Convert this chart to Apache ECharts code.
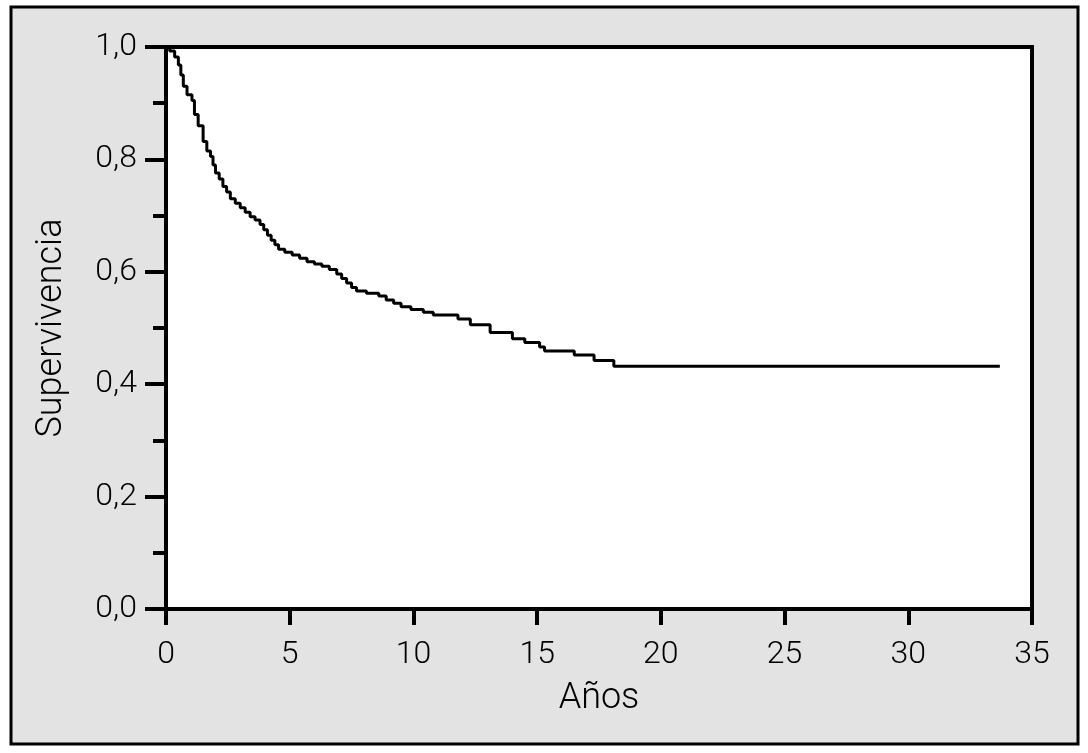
<!DOCTYPE html>
<html>
<head>
<meta charset="utf-8">
<script src="https://cdn.jsdelivr.net/npm/echarts@6/dist/echarts.min.js"></script>
<style>
  html, body { margin: 0; padding: 0; background: #fff; }
  #chart { width: 1088px; height: 753px; }
</style>
</head>
<body>
<div id="chart"></div>
<script>
// tiempos (años) y supervivencia
var tiempos = [0, 0.15, 0.35, 0.5, 0.6, 0.7, 0.85, 1.05, 1.15, 1.3, 1.5, 1.65, 1.8, 1.9, 2.0,
  2.15, 2.3, 2.45, 2.6, 2.8, 3.0, 3.2, 3.4, 3.6, 3.8, 3.95, 4.1, 4.25, 4.4, 4.55, 4.8,
  5.1, 5.4, 5.7, 6.0, 6.3, 6.6, 6.9, 7.1, 7.3, 7.5, 7.7, 8.1, 8.6, 8.9, 9.2, 9.5, 9.9,
  10.4, 10.8, 11.8, 12.3, 13.1, 14.0, 14.5, 15.1, 15.3, 16.5, 17.3, 18.1, 33.7];
var supervivencia = [1.000, 0.993, 0.982, 0.968, 0.950, 0.930, 0.915, 0.905, 0.880, 0.860, 0.832,
  0.815, 0.805, 0.790, 0.776, 0.765, 0.752, 0.742, 0.730, 0.722, 0.714, 0.706, 0.698, 0.692,
  0.684, 0.675, 0.665, 0.656, 0.648, 0.640, 0.635, 0.630, 0.624, 0.618, 0.614, 0.610, 0.604,
  0.596, 0.588, 0.580, 0.572, 0.566, 0.562, 0.557, 0.550, 0.544, 0.538, 0.533, 0.528, 0.523,
  0.516, 0.506, 0.492, 0.481, 0.474, 0.466, 0.459, 0.452, 0.442, 0.432, 0.432];

var datos = tiempos.map(function (t, i) { return [t, supervivencia[i]]; });

var chart = echarts.init(document.getElementById('chart'));

var fuente = 'Roboto, Liberation Sans, Arial, sans-serif';

var option = {
  animation: false,
  backgroundColor: '#fff',
  graphic: [{
    type: 'rect',
    z: -10,
    silent: true,
    shape: { x: 11, y: 7, width: 1067, height: 737 },
    style: { fill: '#e3e3e3', stroke: '#000', lineWidth: 3 }
  }],
  grid: {
    left: 166, right: 56, top: 47, bottom: 144,
    show: true,
    backgroundColor: '#fff',
    borderColor: '#000',
    borderWidth: 4
  },
  xAxis: {
    type: 'value',
    min: 0, max: 35, interval: 5,
    name: 'Años',
    nameLocation: 'middle',
    nameGap: 72,
    nameTextStyle: { fontSize: 36, color: '#000', fontFamily: fuente, fontWeight: 300 },
    axisLine: { show: true, onZero: false, lineStyle: { color: '#000', width: 4 } },
    axisTick: { show: true, length: 16, lineStyle: { color: '#000', width: 4 } },
    axisLabel: { show: true, margin: 30, fontSize: 32, color: '#000', fontFamily: fuente,
      fontWeight: 300, showMinLabel: true, showMaxLabel: true },
    splitLine: { show: false }
  },
  yAxis: {
    type: 'value',
    min: 0, max: 1, interval: 0.2,
    name: 'Supervivencia',
    nameLocation: 'middle',
    nameGap: 96,
    nameTextStyle: { fontSize: 36, color: '#000', fontFamily: fuente, fontWeight: 300 },
    axisLine: { show: true, lineStyle: { color: '#000', width: 4 } },
    axisTick: { show: true, length: 21, lineStyle: { color: '#000', width: 4 } },
    minorTick: { show: true, splitNumber: 2, length: 13, lineStyle: { color: '#000', width: 4 } },
    axisLabel: {
      show: true, margin: 29, fontSize: 32, color: '#000', fontFamily: fuente, fontWeight: 300,
      showMinLabel: true, showMaxLabel: true,
      formatter: function (v) { return v.toFixed(1).replace('.', ','); }
    },
    splitLine: { show: false },
    minorSplitLine: { show: false }
  },
  series: [{
    type: 'line',
    step: 'end',
    symbol: 'none',
    lineStyle: { color: '#000', width: 3 },
    data: datos
  }]
};

chart.setOption(option);
</script>
</body>
</html>
